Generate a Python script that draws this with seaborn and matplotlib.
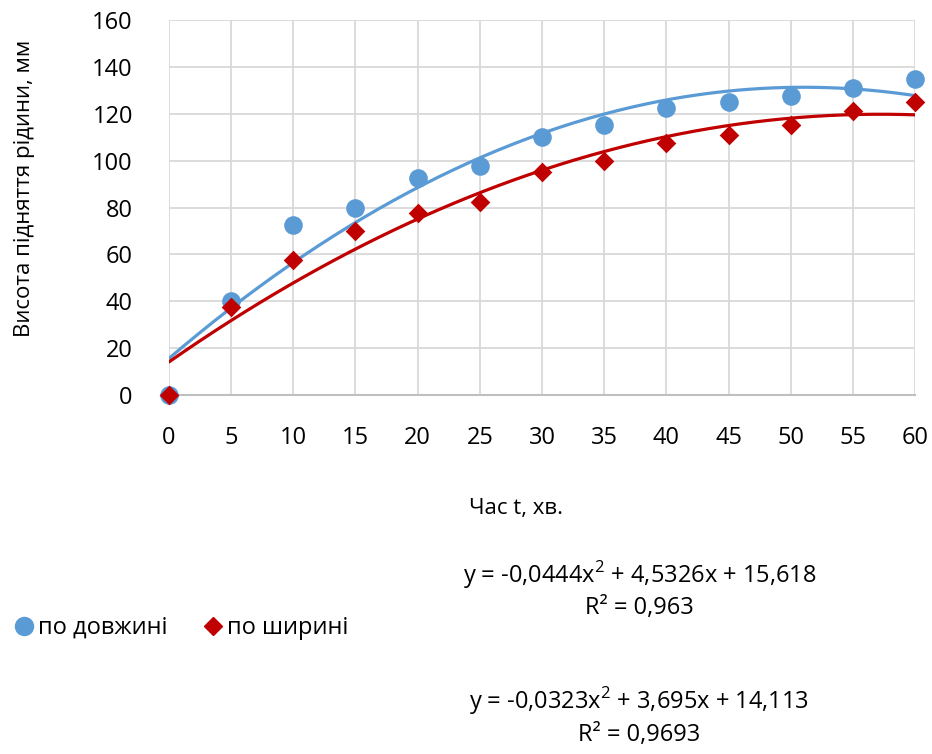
import numpy as np
import pandas as pd
import matplotlib
matplotlib.use('Agg')
import matplotlib.pyplot as plt
from matplotlib.lines import Line2D
import seaborn as sns

# Data
time_min = [0, 5, 10, 15, 20, 25, 30, 35, 40, 45, 50, 55, 60]
height_length = [0, 40, 72.5, 80, 92.5, 97.5, 110, 115, 122.5, 125, 127.5, 131, 135]
height_width = [0, 37.5, 57.5, 70, 77.5, 82.5, 95, 100, 107.5, 111, 115, 121, 125]

# Trendline coefficients as printed on the chart (x^2, x, 1)
coef_length = [-0.0444, 4.5326, 15.618]
coef_width = [-0.0323, 3.695, 14.113]
eq_length = 'y = -0,0444x$^2$ + 4,5326x + 15,618\nR² = 0,963'
eq_width = 'y = -0,0323x$^2$ + 3,695x + 14,113\nR² = 0,9693'

series_names = ['по довжині', 'по ширині']
colors = ['#5B9BD5', '#C00000']

sns.set_theme(style='white')
plt.rcParams['font.family'] = ['Open Sans', 'DejaVu Sans']
plt.rcParams['mathtext.fontset'] = 'custom'
plt.rcParams['mathtext.rm'] = 'Open Sans'
plt.rcParams['text.color'] = 'black'
plt.rcParams['axes.labelcolor'] = 'black'

df_len = pd.DataFrame({'t': time_min, 'h': height_length})
df_wid = pd.DataFrame({'t': time_min, 'h': height_width})

x_fit = np.linspace(0, 60, 200)
fit_len = pd.DataFrame({'t': x_fit, 'h': np.polyval(coef_length, x_fit)})
fit_wid = pd.DataFrame({'t': x_fit, 'h': np.polyval(coef_width, x_fit)})

fig = plt.figure(figsize=(9.32, 7.54), dpi=100)
ax = fig.add_axes([0.1813, 0.4761, 0.8005, 0.4974])

# trendlines
sns.lineplot(data=fit_len, x='t', y='h', color=colors[0], linewidth=2.3, ax=ax, zorder=2)
sns.lineplot(data=fit_wid, x='t', y='h', color=colors[1], linewidth=2.3, ax=ax, zorder=2)

# points
sns.scatterplot(data=df_len, x='t', y='h', color=colors[0], marker='o', s=180,
                linewidth=0, ax=ax, zorder=3, clip_on=False)
sns.scatterplot(data=df_wid, x='t', y='h', color=colors[1], marker='D', s=100,
                linewidth=0, ax=ax, zorder=4, clip_on=False)

ax.set_xlim(0, 60)
ax.set_ylim(0, 160)
ax.set_xticks(range(0, 61, 5))
ax.set_yticks(range(0, 161, 20))
ax.grid(True, color='#d9d9d9', linewidth=1.3)
ax.set_axisbelow(True)
for s in ['top', 'right', 'left']:
    ax.spines[s].set_visible(False)
ax.spines['bottom'].set_color('#bfbfbf')
ax.spines['bottom'].set_linewidth(1.5)
ax.tick_params(axis='both', labelsize=17, length=0, colors='black')
ax.tick_params(axis='x', pad=22)
ax.tick_params(axis='y', pad=26)
ax.set_xlabel('Час t, хв.', fontsize=16)
ax.set_ylabel('Висота підняття рідини, мм', fontsize=16)
ax.xaxis.set_label_coords(0.465, -0.275)
ax.yaxis.set_label_coords(-0.18, 0.55)

# legend
handles = [Line2D([], [], linestyle='none', marker='o', markersize=13, color=colors[0]),
           Line2D([], [], linestyle='none', marker='D', markersize=9.5, color=colors[1])]
fig.legend(handles, series_names, loc='center left', bbox_to_anchor=(-0.012, 0.167),
           ncol=2, frameon=False, fontsize=17, handletextpad=0.0, columnspacing=1.3,
           handlelength=1.2)

fig.text(0.686, 0.218, eq_length, ha='center', va='center', fontsize=17, linespacing=1.25)
fig.text(0.686, 0.05, eq_width, ha='center', va='center', fontsize=17, linespacing=1.35)

fig.savefig('out.png', dpi=100)
